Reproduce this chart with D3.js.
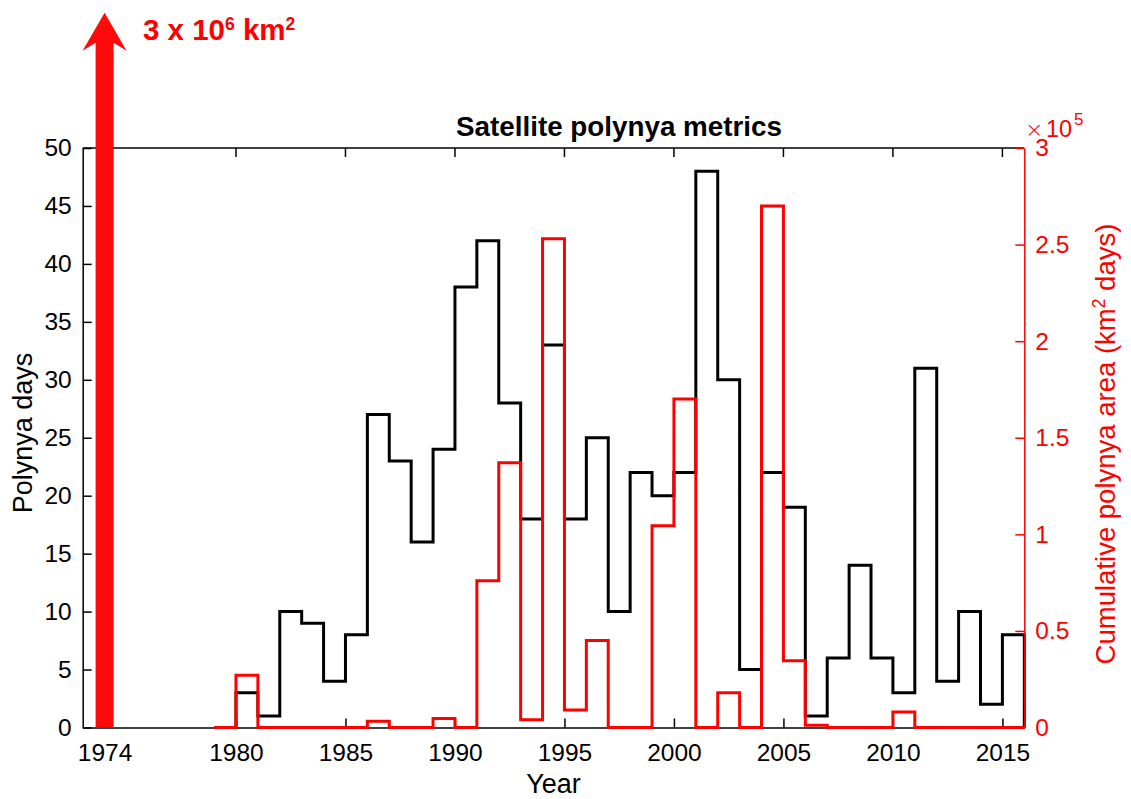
<!DOCTYPE html>
<html>
<head>
<meta charset="utf-8">
<script src="https://cdn.jsdelivr.net/npm/d3@7"></script>
<style>
  body { margin: 0; background: #fff; }
  svg { display: block; font-family: "Liberation Sans", Arial, Helvetica, sans-serif; }
</style>
</head>
<body>
<script>
// bins start at these years, each bin is one year wide
const years = [1979, 1980, 1981, 1982, 1983, 1984, 1985, 1986, 1987, 1988,
  1989, 1990, 1991, 1992, 1993, 1994, 1995, 1996, 1997, 1998,
  1999, 2000, 2001, 2002, 2003, 2004, 2005, 2006, 2007, 2008,
  2009, 2010, 2011, 2012, 2013, 2014, 2015];
const polynyaDays = [0, 3, 1, 10, 9, 4, 8, 27, 23, 16,
  24, 38, 42, 28, 18, 33, 18, 25, 10, 22,
  20, 22, 48, 30, 5, 22, 19, 1, 6, 14,
  6, 3, 31, 4, 10, 2, 8];
// cumulative area, units of 1e5 km^2 days
const polynyaArea = [0, 0.27, 0, 0, 0, 0, 0, 0.033, 0, 0,
  0.046, 0, 0.76, 1.37, 0.04, 2.53, 0.09, 0.45, 0, 0,
  1.045, 1.70, 0, 0.18, 0, 2.70, 0.345, 0.012, 0, 0,
  0, 0.08, 0, 0, 0, 0, 0];
const xTicks = [1974, 1980, 1985, 1990, 1995, 2000, 2005, 2010, 2015];
const leftTicks = [0, 5, 10, 15, 20, 25, 30, 35, 40, 45, 50];
const rightTicks = [0, 0.5, 1, 1.5, 2, 2.5, 3];
const arrowYear = 1974;
const arrowTop = 3.7; // arrow runs off the top of the axes

const W = 1131, H = 799;
const mLeft = 82.7, mRight = 1024.3, mTop = 148, mBottom = 727.5;
const red = "#ff0000";
const tickFont = 24.5;

const svg = d3.select("body").append("svg")
  .attr("width", W)
  .attr("height", H);

const x = d3.scaleLinear().domain([1973, 2016]).range([mLeft, mRight]);
const yL = d3.scaleLinear().domain([0, 50]).range([mBottom, mTop]);
const yR = d3.scaleLinear().domain([0, 3]).range([mBottom, mTop]);

function stairs(vals) {
  var pts = years.map((yr, i) => [yr, vals[i]]);
  var last = years[years.length - 1] + 1;
  pts.push([last, vals[vals.length - 1]]);
  pts.push([last, 0]);
  return pts;
}

// top box line
svg.append("line")
  .attr("x1", mLeft).attr("x2", mRight)
  .attr("y1", mTop).attr("y2", mTop)
  .attr("stroke", "black").attr("stroke-width", 1.5);

// top ticks
svg.append("g").selectAll("line")
  .data(xTicks)
  .enter().append("line")
  .attr("x1", d => x(d)).attr("x2", d => x(d))
  .attr("y1", mTop).attr("y2", mTop + 9)
  .attr("stroke", "black").attr("stroke-width", 1.5);

var xAxis = svg.append("g")
  .attr("transform", "translate(0," + mBottom + ")")
  .call(d3.axisBottom(x).tickValues(xTicks).tickFormat(d3.format("d"))
    .tickSize(-9).tickSizeOuter(0).tickPadding(16));

var lAxis = svg.append("g")
  .attr("transform", "translate(" + mLeft + ",0)")
  .call(d3.axisLeft(yL).tickValues(leftTicks).tickSize(-9).tickSizeOuter(0).tickPadding(11));

[xAxis, lAxis].forEach(g => {
  g.selectAll("path, line").attr("stroke", "black").attr("stroke-width", 1.5);
  g.selectAll("text").attr("font-size", tickFont).attr("fill", "black")
    .attr("font-family", "Liberation Sans, Arial, sans-serif");
});

svg.append("path")
  .attr("d", d3.line().x(d => x(d[0])).y(d => yL(d[1])).curve(d3.curveStepAfter)(stairs(polynyaDays)))
  .attr("fill", "none")
  .attr("stroke", "black")
  .attr("stroke-width", 3);

svg.append("path")
  .attr("d", d3.line().x(d => x(d[0])).y(d => yR(d[1])).curve(d3.curveStepAfter)(stairs(polynyaArea)))
  .attr("fill", "none")
  .attr("stroke", red)
  .attr("stroke-width", 3);

var rAxis = svg.append("g")
  .attr("transform", "translate(" + mRight + ",0)")
  .call(d3.axisRight(yR).tickValues(rightTicks).tickFormat(d => String(d))
    .tickSize(-9).tickSizeOuter(0).tickPadding(11));
rAxis.selectAll("path, line").attr("stroke", red).attr("stroke-width", 1.5);
rAxis.selectAll("text").attr("font-size", tickFont).attr("fill", red)
  .attr("font-family", "Liberation Sans, Arial, sans-serif");

// exponent above the right axis
svg.append("text")
  .attr("x", 1025).attr("y", 137)
  .attr("fill", red)
  .attr("font-family", "DejaVu Sans").attr("font-weight", 200)
  .attr("font-size", 22)
  .text("\u00d7");
svg.append("text")
  .attr("x", 1046).attr("y", 137)
  .attr("fill", red)
  .attr("font-size", 23.5)
  .text("10");
svg.append("text")
  .attr("x", 1074).attr("y", 125)
  .attr("fill", red)
  .attr("font-size", 17)
  .text("5");

// big arrow at 1974
var ax = x(arrowYear), ay0 = yR(0), ay1 = yR(arrowTop);
svg.append("path")
  .attr("d", "M" + (ax - 9) + "," + ay0 +
    "L" + (ax - 9) + "," + (ay1 + 30) +
    "L" + (ax - 22) + "," + (ay1 + 38) +
    "L" + ax + "," + ay1 +
    "L" + (ax + 22) + "," + (ay1 + 38) +
    "L" + (ax + 9) + "," + (ay1 + 30) +
    "L" + (ax + 9) + "," + ay0 + "Z")
  .attr("fill", "#ff0a0a");

var lab = svg.append("text")
  .attr("x", 143)
  .attr("y", 39.5)
  .attr("fill", red)
  .attr("font-weight", "bold")
  .attr("font-size", 29.5);
lab.append("tspan").text("3 x 10");
lab.append("tspan").attr("font-size", 17.5).attr("dy", -9.5).text("6");
lab.append("tspan").attr("dy", 9.5).text(" km");
lab.append("tspan").attr("font-size", 17.5).attr("dy", -9.5).text("2");

// title
svg.append("text")
  .attr("x", 619)
  .attr("y", 136)
  .attr("text-anchor", "middle")
  .attr("font-weight", "bold")
  .attr("font-size", 27.8)
  .text("Satellite polynya metrics");

svg.append("text")
  .attr("x", (mLeft + mRight) / 2)
  .attr("y", 793)
  .attr("text-anchor", "middle")
  .attr("font-size", 27)
  .text("Year");

svg.append("text")
  .attr("transform", "translate(32,433) rotate(-90)")
  .attr("text-anchor", "middle")
  .attr("font-size", 27)
  .text("Polynya days");

var rl = svg.append("text")
  .attr("transform", "translate(1115,444) rotate(-90)")
  .attr("text-anchor", "middle")
  .attr("fill", red)
  .attr("font-size", 27.5);
rl.append("tspan").text("Cumulative polynya area (km");
rl.append("tspan").attr("font-size", 17.5).attr("dy", -10).text("2");
rl.append("tspan").attr("dy", 10).text(" days)");
</script>
</body>
</html>
